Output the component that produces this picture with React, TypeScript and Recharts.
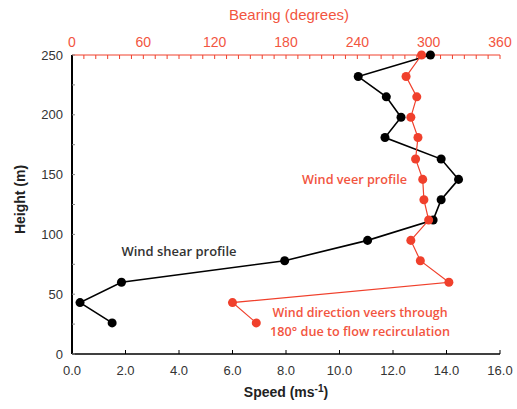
import React from "react";
import {
  ScatterChart,
  Scatter,
  XAxis,
  YAxis,
  Label,
  ReferenceDot,
} from "recharts";

// Heights (m) of the profile points, top to bottom
const heights = [250, 232, 215, 198, 181, 163, 146, 129, 112, 95, 78, 60, 43, 26];
// Wind speed (m/s) at each height — black "Wind shear profile"
const speeds = [13.4, 10.7, 11.75, 12.3, 11.7, 13.8, 14.45, 13.8, 13.5, 11.05, 7.95, 1.85, 0.3, 1.5];
// Wind bearing (degrees) at each height — red "Wind veer profile"
const bearings = [294, 281, 290, 285, 291, 289, 295, 296, 300, 285, 293, 317, 135, 155];

const speedTicks = [0, 2, 4, 6, 8, 10, 12, 14, 16];
const bearingTicks = [0, 60, 120, 180, 240, 300, 360];
const heightTicks = [0, 50, 100, 150, 200, 250];

const bearingMinor = Array.from({ length: 37 }, (_, i) => i * 10);
const heightMinor = Array.from({ length: 11 }, (_, i) => i * 25);

const shearData = heights.map((h, i) => ({ x: speeds[i], y: h }));
const veerData = heights.map((h, i) => ({ x: bearings[i], y: h }));

const RED = "#f0402c";
const RED_TXT = "#f2553f";
const TICK_FONT = "'Liberation Sans', Arial, sans-serif";
const NOTE_FONT = "'Open Sans', 'Noto Sans', sans-serif";

const Empty = () => <g />;

const noteLabel =
  (lines: string[], lengths: number[], color: string, anchor: string, size: number) =>
  (props: any) => {
    const vb = props.viewBox || {};
    const cx = vb.cx ?? vb.x ?? 0;
    const cy = vb.cy ?? vb.y ?? 0;
    return (
      <g>
        {lines.map((l, i) => (
          <text
            key={i}
            x={cx}
            y={cy + 4 + i * 19}
            fill={color}
            fontFamily={NOTE_FONT}
            fontSize={size}
            fontWeight={600}
            textAnchor={anchor}
            textLength={lengths[i]}
            lengthAdjust="spacingAndGlyphs"
          >
            {l}
          </text>
        ))}
      </g>
    );
  };

export default function App() {
  return (
    <div style={{ position: "absolute", left: 0, top: 0, background: "#fff" }}>
      <ScatterChart
        width={517}
        height={409}
        margin={{ top: 0, right: 17, bottom: 0, left: 0 }}
      >
        <XAxis
          xAxisId="speed"
          type="number"
          dataKey="x"
          orientation="bottom"
          domain={[0, 16]}
          ticks={speedTicks}
          interval={0}
          height={55}
          tickFormatter={(v: number) => v.toFixed(1)}
          tick={{ fill: "#333", fontSize: 13, fontFamily: TICK_FONT }}
          tickSize={-4}
          tickMargin={16}
          axisLine={{ stroke: "#000", strokeWidth: 1.5 }}
          tickLine={{ stroke: "#000", strokeWidth: 1 }}
        >
          <Label
            content={(props: any) => {
              const vb = props.viewBox;
              const x = vb.x + vb.width / 2;
              const y = vb.y + vb.height - 12;
              return (
                <text
                  x={x}
                  y={y}
                  textAnchor="middle"
                  fontFamily={TICK_FONT}
                  fontWeight="bold"
                  fontSize={14}
                  fill="#222"
                >
                  Speed (ms
                  <tspan dy={-5} fontSize={10}>-1</tspan>
                  <tspan dy={5}>)</tspan>
                </text>
              );
            }}
          />
        </XAxis>
        <XAxis
          xAxisId="bearing"
          type="number"
          dataKey="x"
          orientation="top"
          domain={[0, 360]}
          ticks={bearingMinor}
          interval={0}
          height={55}
          tickFormatter={(v: number) => (bearingTicks.includes(v) ? String(v) : "")}
          tick={{ fill: RED_TXT, fontSize: 14, fontFamily: TICK_FONT }}
          tickSize={-4}
          tickMargin={12}
          axisLine={{ stroke: RED, strokeWidth: 1 }}
          tickLine={{ stroke: RED, strokeWidth: 1 }}
        >
          <Label
            content={(props: any) => {
              const vb = props.viewBox;
              return (
                <text
                  x={vb.x + vb.width / 2 + 3}
                  y={vb.y + 20}
                  textAnchor="middle"
                  fontFamily={TICK_FONT}
                  fontSize={15}
                  fill={RED_TXT}
                >
                  Bearing (degrees)
                </text>
              );
            }}
          />
        </XAxis>
        <YAxis
          yAxisId="h"
          type="number"
          dataKey="y"
          orientation="left"
          domain={[0, 250]}
          ticks={heightMinor}
          interval={0}
          width={72}
          tickFormatter={(v: number) => (heightTicks.includes(v) ? String(v) : "")}
          tick={{ fill: "#333", fontSize: 13, fontFamily: TICK_FONT }}
          tickSize={-3}
          tickMargin={12}
          axisLine={{ stroke: "#000", strokeWidth: 2 }}
          tickLine={{ stroke: "#888", strokeWidth: 1 }}
        >
          <Label
            content={(props: any) => {
              const vb = props.viewBox;
              const cx = 20;
              const cy = vb.y + vb.height / 2 - 5;
              return (
                <text
                  x={cx}
                  y={cy}
                  textAnchor="middle"
                  transform={`rotate(-90 ${cx} ${cy})`}
                  fontFamily={TICK_FONT}
                  fontWeight="bold"
                  fontSize={14}
                  fill="#222"
                  dy={5}
                >
                  Height (m)
                </text>
              );
            }}
          />
        </YAxis>
        <YAxis
          yAxisId="r"
          type="number"
          orientation="right"
          domain={[0, 250]}
          ticks={heightMinor}
          interval={0}
          width={0}
          tick={Empty}
          tickSize={-4}
          axisLine={{ stroke: "#000", strokeWidth: 2 }}
          tickLine={{ stroke: "#555", strokeWidth: 1 }}
        />

        <Scatter
          name="Wind shear profile"
          data={shearData}
          xAxisId="speed"
          yAxisId="h"
          fill="#000"
          line={{ stroke: "#000", strokeWidth: 1.6 }}
          lineType="joint"
          isAnimationActive={false}
        />
        <Scatter
          name="Wind veer profile"
          data={veerData}
          xAxisId="bearing"
          yAxisId="h"
          fill={RED}
          line={{ stroke: RED, strokeWidth: 1.2 }}
          lineType="joint"
          isAnimationActive={false}
        />

        <ReferenceDot
          xAxisId="speed"
          yAxisId="h"
          x={1.85}
          y={85}
          r={0}
          fill="none"
          stroke="none"
          label={noteLabel(["Wind shear profile"], [115], "#333", "start", 13)}
        />
        <ReferenceDot
          xAxisId="speed"
          yAxisId="h"
          x={8.6}
          y={145.5}
          r={0}
          fill="none"
          stroke="none"
          label={noteLabel(["Wind veer profile"], [105], RED_TXT, "start", 13)}
        />
        <ReferenceDot
          xAxisId="speed"
          yAxisId="h"
          x={10.77}
          y={34.5}
          r={0}
          fill="none"
          stroke="none"
          label={noteLabel(
            ["Wind direction veers through", "180° due to flow recirculation"],
            [175, 180],
            RED_TXT,
            "middle",
            13
          )}
        />
      </ScatterChart>
    </div>
  );
}
